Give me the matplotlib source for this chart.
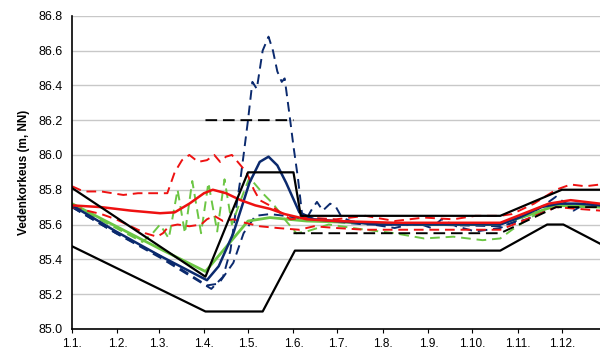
import numpy as np
import matplotlib
matplotlib.use('Agg')
import matplotlib.pyplot as plt

plt.rcParams['font.family'] = ['Liberation Sans', 'DejaVu Sans']

# x = day of year (0 = 1.1.)
month_days = [0, 31, 59, 90, 120, 151, 181, 212, 243, 273, 304, 334]
month_labels = ['1.1.', '1.2.', '1.3.', '1.4.', '1.5.', '1.6.',
                '1.7.', '1.8.', '1.9.', '1.10.', '1.11.', '1.12.']

# regulation limits (black)
upper_days = [0, 91, 120, 151, 156, 292, 334, 360]
upper_vals = [85.81, 85.30, 85.90, 85.90, 85.65, 85.65, 85.80, 85.80]
lower_days = [0, 91, 130, 152, 292, 324, 335, 360]
lower_vals = [85.475, 85.10, 85.10, 85.45, 85.45, 85.60, 85.60, 85.49]
target_days = [91, 151, np.nan, 151, 292, 330, 360]
target_vals = [86.2, 86.2, np.nan, 85.55, 85.55, 85.70, 85.70]

# navy
navy_days = [0, 30, 60, 92, 100, 110, 121, 128, 134, 140, 146, 155, 165, 180, 210, 240, 270, 292, 305, 320, 332, 345, 360]
navy_vals = [85.71, 85.56, 85.42, 85.28, 85.36, 85.55, 85.84, 85.96, 85.99, 85.94, 85.84, 85.67, 85.63, 85.62, 85.60, 85.60, 85.60, 85.60, 85.64, 85.70, 85.72, 85.72, 85.71]

navy_hi_days = [0, 30, 60, 95, 103, 108, 112, 115, 117, 120, 123, 126, 130, 134, 137, 140, 143, 145, 148, 151, 154, 157, 159, 163, 167, 171, 176, 180, 184, 190, 205, 220, 235, 245, 252, 262, 275, 292, 305, 320, 330, 337, 342, 350, 360]
navy_hi_vals = [85.70, 85.55, 85.41, 85.23, 85.30, 85.45, 85.70, 85.87, 86.00, 86.20, 86.42, 86.38, 86.60, 86.68, 86.60, 86.48, 86.42, 86.44, 86.25, 86.05, 85.87, 85.65, 85.62, 85.68, 85.73, 85.68, 85.72, 85.70, 85.64, 85.62, 85.60, 85.58, 85.61, 85.58, 85.63, 85.59, 85.56, 85.58, 85.63, 85.70, 85.76, 85.72, 85.68, 85.72, 85.72]

navy_lo_days = [0, 30, 60, 92, 100, 110, 117, 125, 135, 145, 160, 200, 240, 292, 310, 330, 360]
navy_lo_vals = [85.70, 85.55, 85.42, 85.25, 85.26, 85.38, 85.55, 85.65, 85.66, 85.65, 85.63, 85.60, 85.60, 85.59, 85.63, 85.71, 85.70]

# green
green_days = [0, 30, 60, 91, 105, 120, 135, 160, 200, 240, 290, 310, 330, 360]
green_vals = [85.72, 85.59, 85.46, 85.33, 85.47, 85.62, 85.64, 85.62, 85.61, 85.60, 85.60, 85.65, 85.71, 85.70]

green_d_days = [0, 30, 48, 55, 60, 66, 72, 77, 82, 88, 93, 99, 104, 109, 115, 121, 130, 137, 146, 153, 160, 175, 200, 220, 240, 260, 280, 292, 300, 320, 335, 360]
green_d_vals = [85.71, 85.58, 85.50, 85.55, 85.60, 85.52, 85.80, 85.55, 85.85, 85.55, 85.84, 85.56, 85.86, 85.60, 85.74, 85.87, 85.78, 85.72, 85.62, 85.55, 85.56, 85.60, 85.57, 85.55, 85.52, 85.53, 85.51, 85.52, 85.57, 85.68, 85.72, 85.71]

# red
red_days = [0, 20, 40, 60, 70, 80, 90, 96, 105, 115, 125, 135, 145, 160, 180, 220, 260, 292, 310, 325, 340, 360]
red_vals = [85.71, 85.70, 85.68, 85.665, 85.67, 85.72, 85.78, 85.80, 85.78, 85.74, 85.71, 85.69, 85.66, 85.63, 85.62, 85.61, 85.61, 85.61, 85.67, 85.72, 85.74, 85.72]

red_hi_days = [0, 8, 20, 35, 45, 55, 65, 70, 75, 80, 86, 92, 97, 101, 105, 109, 114, 119, 124, 128, 137, 149, 160, 180, 200, 220, 240, 260, 275, 292, 300, 315, 330, 340, 350, 360]
red_hi_vals = [85.82, 85.79, 85.79, 85.77, 85.78, 85.78, 85.78, 85.90, 85.97, 86.00, 85.96, 85.97, 86.00, 85.96, 85.99, 86.00, 85.95, 85.90, 85.80, 85.74, 85.70, 85.63, 85.64, 85.63, 85.65, 85.62, 85.64, 85.63, 85.65, 85.65, 85.66, 85.72, 85.80, 85.83, 85.82, 85.83]

red_lo_days = [0, 10, 20, 30, 40, 50, 58, 62, 66, 72, 80, 88, 92, 97, 103, 110, 118, 128, 140, 155, 165, 180, 200, 230, 260, 292, 310, 330, 345, 360]
red_lo_vals = [85.70, 85.68, 85.66, 85.63, 85.59, 85.55, 85.53, 85.55, 85.59, 85.60, 85.59, 85.60, 85.63, 85.65, 85.62, 85.63, 85.61, 85.59, 85.58, 85.57, 85.59, 85.58, 85.57, 85.57, 85.57, 85.57, 85.63, 85.70, 85.69, 85.68]

navy = '#0B2A6E'
green = '#6CC644'
red = '#EE1111'

fig = plt.figure(figsize=(6, 3.51), dpi=100)
ax = fig.add_axes([0.12, 0.063, 0.88, 0.892])

ax.plot(navy_hi_days, navy_hi_vals, color=navy, lw=1.4, dashes=(5, 3))
ax.plot(navy_lo_days, navy_lo_vals, color=navy, lw=1.4, dashes=(5, 3))
ax.plot(green_d_days, green_d_vals, color=green, lw=1.4, dashes=(5, 3))
ax.plot(green_days, green_vals, color=green, lw=2.0)
ax.plot(red_hi_days, red_hi_vals, color=red, lw=1.4, dashes=(5, 3))
ax.plot(red_lo_days, red_lo_vals, color=red, lw=1.4, dashes=(5, 3))
ax.plot(navy_days, navy_vals, color=navy, lw=1.8)
ax.plot(red_days, red_vals, color=red, lw=1.8)
ax.plot(upper_days, upper_vals, color='black', lw=1.6)
ax.plot(lower_days, lower_vals, color='black', lw=1.6)
ax.plot(target_days, target_vals, color='black', lw=1.4, dashes=(6, 3))

ax.set_xlim(0, 360)
ax.set_ylim(85.0, 86.8)
ax.set_xticks(month_days)
ax.set_xticklabels(month_labels)
ax.set_yticks(np.arange(85.0, 86.81, 0.2))
ax.yaxis.set_major_formatter(matplotlib.ticker.FormatStrFormatter('%.1f'))
ax.tick_params(axis='x', labelsize=8.5, length=3, colors='black')
ax.tick_params(axis='y', labelsize=9, length=0, pad=7)
ax.grid(axis='y', color='#c8c8c8', lw=1)
ax.set_axisbelow(True)
for s in ['top', 'right']:
    ax.spines[s].set_visible(False)
ax.spines['left'].set_linewidth(1.2)
ax.spines['bottom'].set_linewidth(1.2)
ax.set_ylabel('Vedenkorkeus (m, NN)', fontsize=8.5, fontweight='bold', labelpad=6)

fig.savefig('out.png', dpi=100)
